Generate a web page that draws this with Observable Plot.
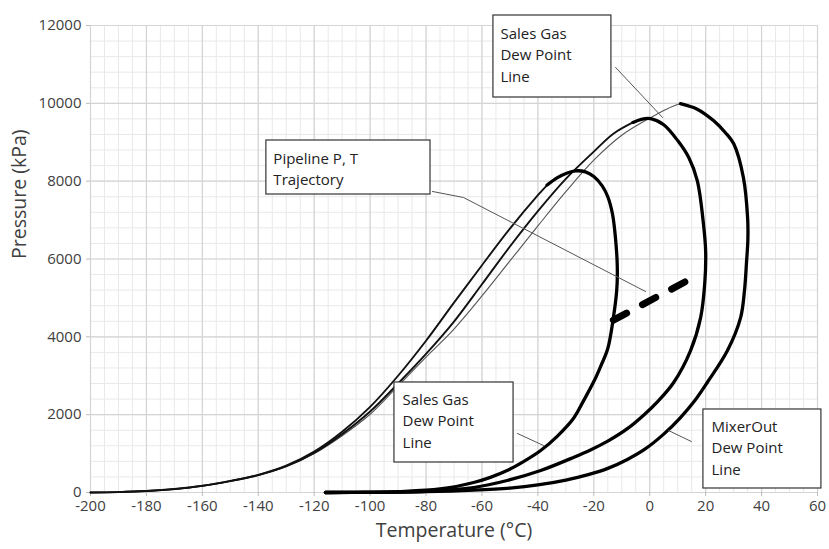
<!DOCTYPE html>
<html><head><meta charset="utf-8">
<script src="https://cdn.jsdelivr.net/npm/d3@7"></script>
<script src="https://cdn.jsdelivr.net/npm/@observablehq/plot@0.6"></script>
<style>body{margin:0;background:#fff;} svg{display:block;}</style>
</head><body><div id="chart"></div>
<script>
// Axis ticks
const xTicks = d3.range(-200, 61, 20);
const yTicks = d3.range(0, 12001, 2000);
const xMinor = d3.range(-200, 61, 5);
const yMinor = d3.range(0, 12001, 400);

// Small envelope: bubble side (thin) and dew side (thick)
const smallBubbleT = [-200,-190,-180,-170,-160,-150,-140,-130,-120,-110,-100,-90,-80,-70,-60,-50,-40,-36.7];
const smallBubbleP = [0,10,38,90,175,300,455,690,1050,1560,2200,3000,3900,4880,5840,6780,7640,7900];
const smallDewT = [-36.7,-33,-29.5,-26.5,-23,-20,-17,-15,-13.3,-12.2,-11.6,-11.8,-13,-15,-17.5,-20,-23.5,-27.3,-33,-39,-45,-51,-57,-63,-75,-90,-105,-116];
const smallDewP = [7900,8090,8210,8265,8240,8120,7880,7600,7150,6500,5800,5200,4495,3700,3250,2850,2380,1900,1450,1079,800,565,390,257,90,25,5,0];

// Middle envelope
const midBubbleT = [-200,-190,-180,-170,-160,-150,-140,-130,-120,-110,-100,-90,-80,-70,-60,-50,-40,-30,-20,-13,-6];
const midBubbleP = [0,10,37,88,170,293,447,675,1020,1500,2080,2800,3560,4390,5350,6320,7230,8060,8760,9220,9510];
const midDewT = [-6,-3,0.3,5,10,14,17,19.2,20,19.7,18.2,14.6,8.5,3,-2,-8,-15,-21,-27.3,-39,-51,-63,-80,-100,-116];
const midDewP = [9510,9590,9607,9450,9042,8600,8015,6910,6200,5400,4495,3648,2820,2350,2000,1640,1320,1100,900,565,308,128,30,5,0];

// Large (MixerOut) envelope
const largeBubbleT = [-200,-190,-180,-170,-160,-150,-140,-130,-120,-110,-100,-90,-80,-70,-60,-50,-40,-30,-20,-10,0,6,11];
const largeBubbleP = [0,10,36,86,167,287,437,660,1000,1460,2010,2740,3480,4200,5050,5950,6850,7730,8540,9180,9620,9850,9993];
const largeDewT = [11,17,22.8,27,30,33.5,35,35.1,34.6,33.9,32.5,27.8,20.7,16,11,5,-2,-8,-15,-22,-30,-40,-50,-63,-80,-100,-116];
const largeDewP = [9993,9850,9556,9250,8965,8092,7064,6500,5900,5200,4495,3648,2840,2350,1927,1500,1100,850,620,460,320,195,115,60,20,4,0];

// Pipeline P,T trajectory
const trajT = [-13, 16.5];
const trajP = [4430, 5560];

// Annotation texts
const noteTexts = ["Pipeline P, T\nTrajectory", "Sales Gas\nDew Point\nLine", "Sales Gas\nDew Point\nLine", "MixerOut\nDew Point\nLine"];

const zip = (T, P) => T.map((t, i) => ({T: t, P: P[i]}));

// annotation geometry (data units)
const boxX1 = [-137.1, -55.9, -91.3, 19.2];
const boxX2 = [-78.4, -13.7, -48.7, 61.4];
const boxY1 = [9045, 12257, 2827, 2133];
const boxY2 = [7657, 10150, 771, 103];
const textX = [-134.6, -53.4, -88.4, 22.1];
const textY = [8351, 11281, 1876, 1182];
const boxes = boxX1.map((d, i) => ({x1: d, x2: boxX2[i], y1: boxY1[i], y2: boxY2[i], tx: textX[i], ty: textY[i], text: noteTexts[i]}));
const leaders = [
  zip([-77.7, -66.6, -1.5], [7735, 7580, 5165]),
  zip([-12.2, 4.6], [10921, 9636]),
  zip([-47.3, -38.0], [1516, 1208]),
  zip([14.9, 6.7], [1310, 1593])
];

const curveLine = (data, stroke, sw) => Plot.line(data, {x: "T", y: "P", stroke, strokeWidth: sw, curve: "catmull-rom", strokeLinejoin: "round", strokeLinecap: "round"});

const chart = Plot.plot({
  width: 829, height: 549,
  marginLeft: 90, marginRight: 12, marginTop: 25, marginBottom: 57,
  style: {fontFamily: "'Open Sans', sans-serif", background: "#fff", overflow: "visible"},
  x: {domain: [-200, 60]},
  y: {domain: [0, 12000]},
  marks: [
    Plot.ruleX(xMinor, {stroke: "#e9e9e9", strokeWidth: 1}),
    Plot.ruleY(yMinor, {stroke: "#e9e9e9", strokeWidth: 1}),
    Plot.ruleX(xTicks, {stroke: "#d4d4d4", strokeWidth: 1.2}),
    Plot.ruleY(yTicks, {stroke: "#d4d4d4", strokeWidth: 1.2}),
    Plot.axisX({ticks: xTicks, tickSize: 4, tickPadding: 4, fontSize: 15, label: null, stroke: "#bbb", fill: "#404040", tickFormat: d => String(d)}),
    Plot.axisY({ticks: yTicks, tickSize: 4, tickPadding: 5, fontSize: 15, label: null, stroke: "#bbb", fill: "#404040", tickFormat: d => String(d)}),
    Plot.text(["Temperature (°C)"], {frameAnchor: "bottom", dy: 44, fontSize: 19.5, fill: "#404040"}),
    Plot.text(["Pressure (kPa)"], {frameAnchor: "left", dx: -71, rotate: -90, fontSize: 19.5, fill: "#404040"}),
    // bubble (left) branches
    curveLine(zip(largeBubbleT, largeBubbleP), "#555", 1.1),
    curveLine(zip(midBubbleT, midBubbleP), "#111", 1.9),
    curveLine(zip(smallBubbleT, smallBubbleP), "#111", 1.9),
    // dew (right) branches
    curveLine(zip(smallDewT, smallDewP), "#000", 3.3),
    curveLine(zip(midDewT, midDewP), "#000", 3.3),
    curveLine(zip(largeDewT, largeDewP), "#000", 3.3),
    // trajectory
    Plot.line(zip(trajT, trajP), {x: "T", y: "P", stroke: "#000", strokeWidth: 7, strokeDasharray: "15,18", strokeLinecap: "round"}),
    // leaders
    ...leaders.map(l => Plot.line(l, {x: "T", y: "P", stroke: "#555", strokeWidth: 1})),
    // boxes
    Plot.rect(boxes, {x1: "x1", x2: "x2", y1: "y1", y2: "y2", fill: "#fff", stroke: "#333", strokeWidth: 1.2}),
    Plot.text(boxes, {x: "tx", y: "ty", text: "text", textAnchor: "start", lineAnchor: "middle", lineHeight: 1.45, fontSize: 15, fill: "#222"})
  ]
});
document.getElementById("chart").appendChild(chart);
</script>
</body></html>
